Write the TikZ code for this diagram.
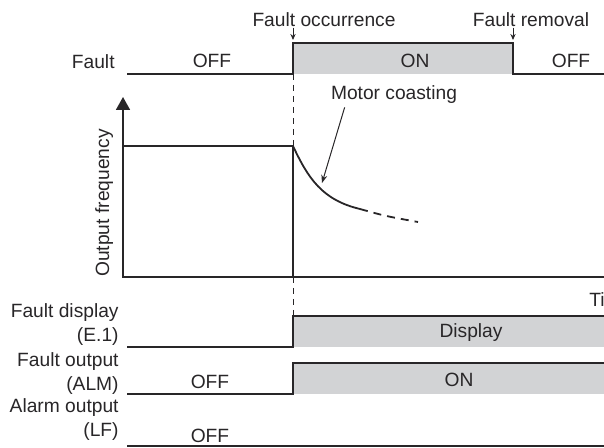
\documentclass[tikz,border=0pt]{standalone}
\usepackage{fontspec}
\setmainfont{Liberation Sans}
\usepackage{xcolor}
\usepackage{tikz}
\usetikzlibrary{arrows.meta, positioning}
\definecolor{ongray}{RGB}{210,211,213}
\definecolor{ink}{RGB}{40,38,40}

\begin{document}
\begin{tikzpicture}[
  x=0.5pt, y=-0.5pt,
  txt/.style={font=\fontsize{9.6}{12}\selectfont, text=ink, inner sep=0pt},
  signame/.style={txt, align=right, anchor=north east},
  wave/.style={draw=ink, line width=0.9pt},
  onfill/.style={fill=ongray},
  guide/.style={draw=ink, line width=0.5pt, dash pattern=on 3pt off 2.5pt},
  marker/.style={-{Stealth[length=3pt, width=2.6pt]}, draw=ink, line width=0.5pt, shorten >=1.5pt},
  pointer/.style={-{Stealth[length=4pt, width=3pt]}, draw=ink, line width=0.5pt}
]
\useasboundingbox (0,0) rectangle (604,448);

% Fault signal
\coordinate (fLow) at (127,74);
\coordinate (fOn) at (293,74);
\coordinate (fOnTop) at (293,43);
\coordinate (fOffTop) at (513,43);
\coordinate (fOff) at (513,74);
\coordinate (fEnd) at (604,74);
\fill[onfill] (fOnTop) rectangle (fOff);
\draw[wave] (fLow) -- (fOn) -- (fOnTop) -- (fOffTop) -- (fOff) -- (fEnd);
\node[txt, anchor=east] (fault) at (115,62) {Fault};
\node[txt] (faultOff) at (212,61) {OFF};
\node[txt] (faultOn) at (415,61) {ON};
\node[txt] (faultOff2) at (571,61) {OFF};
\node[txt, anchor=base] (occ) at (324,27) {Fault occurrence};
\node[txt, anchor=base] (rem) at (531,27) {Fault removal};
\draw[marker] (occ.south -| fOnTop) -- (fOnTop);
\draw[marker] (rem.south -| fOffTop) -- (fOffTop);

% Output frequency
\coordinate (org) at (123,277);
\coordinate (yTip) at (123,97);
\coordinate (xEnd) at (604,277);
\coordinate (lvl) at (123,146);
\coordinate (drop) at (293,146);
\draw[wave, {Triangle[length=6.5pt, width=7pt]}-] (yTip) -- (org) -- (xEnd);
\draw[wave] (lvl) -- (drop) -- (drop |- org);
\draw[wave] (drop) .. controls (308,178) and (322,200) .. (360,209) coordinate (solidEnd);
\draw[wave, dash pattern=on 4pt off 3pt] (solidEnd) .. controls (385,216) .. (418,222);
\node[txt, rotate=90, anchor=base] (freq) at (109,203) {Output frequency};
\node[txt, anchor=base] (coast) at (394,100) {Motor coasting};
\coordinate (coastTip) at (322,183);
\draw[pointer] ([xshift=7pt, yshift=-1.5pt]coast.south west) -- (coastTip);
\node[txt, anchor=west] (time) at (589,300) {Time};

% Fault display
\coordinate (dLow) at (127,347);
\coordinate (dOn) at (293,347);
\coordinate (dTop) at (293,316);
\coordinate (dEnd) at (604,316);
\fill[onfill] (dTop) rectangle (dEnd |- dOn);
\draw[wave] (dLow) -- (dOn) -- (dTop) -- (dEnd);
\node[signame] (dispName) at (119,303) {Fault display\\(E.1)};
\node[txt] (disp) at (471,333) {Display};

% Fault output
\coordinate (oLow) at (127,394);
\coordinate (oOn) at (293,394);
\coordinate (oTop) at (293,363);
\coordinate (oEnd) at (604,363);
\fill[onfill] (oTop) rectangle (oEnd |- oOn);
\draw[wave] (oLow) -- (oOn) -- (oTop) -- (oEnd);
\node[signame] (outName) at (119,352) {Fault output\\(ALM)};
\node[txt] (outOff) at (210,382) {OFF};
\node[txt] (outOn) at (459,380) {ON};

% Alarm output
\coordinate (aLow) at (127,446);
\coordinate (aEnd) at (604,446);
\draw[wave] (aLow) -- (aEnd);
\node[signame] (alarmName) at (119,398) {Alarm output\\(LF)};
\node[txt] (alarmOff) at (210,436) {OFF};

% time guides
\draw[guide] (fOn) -- (drop);
\draw[guide] (drop |- org) -- (dTop);
\end{tikzpicture}
\end{document}
